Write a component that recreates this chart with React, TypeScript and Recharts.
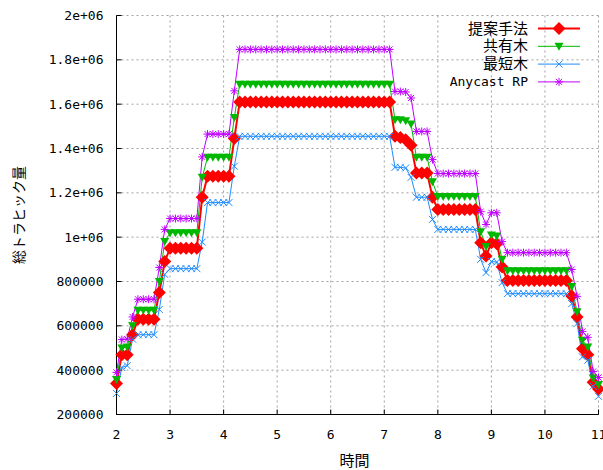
import React from 'react';
import { LineChart, Line, XAxis, YAxis, CartesianGrid } from 'recharts';

// 時間 (x)
const times = [
  2.0, 2.1, 2.2, 2.3, 2.4, 2.5, 2.6, 2.7, 2.8, 2.9,
  3.0, 3.1, 3.2, 3.3, 3.4, 3.5, 3.6, 3.7, 3.8, 3.9,
  4.0, 4.1, 4.2, 4.3, 4.4, 4.5, 4.6, 4.7, 4.8, 4.9,
  5.0, 5.1, 5.2, 5.3, 5.4, 5.5, 5.6, 5.7, 5.8, 5.9,
  6.0, 6.1, 6.2, 6.3, 6.4, 6.5, 6.6, 6.7, 6.8, 6.9,
  7.0, 7.1, 7.2, 7.3, 7.4, 7.5, 7.6, 7.7, 7.8, 7.9,
  8.0, 8.1, 8.2, 8.3, 8.4, 8.5, 8.6, 8.7, 8.8, 8.9,
  9.0, 9.1, 9.2, 9.3, 9.4, 9.5, 9.6, 9.7, 9.8, 9.9,
  10.0, 10.1, 10.2, 10.3, 10.4, 10.5, 10.6, 10.7, 10.8, 10.9,
  11.0,
];

// 提案手法
const proposed = [
  340000, 470000, 470000, 560000, 630000, 630000, 630000, 630000, 750000, 890000,
  950000, 950000, 950000, 950000, 950000, 950000, 1180000, 1275000, 1275000, 1275000,
  1275000, 1275000, 1445000, 1610000, 1610000, 1610000, 1610000, 1610000, 1610000, 1610000,
  1610000, 1610000, 1610000, 1610000, 1610000, 1610000, 1610000, 1610000, 1610000, 1610000,
  1610000, 1610000, 1610000, 1610000, 1610000, 1610000, 1610000, 1610000, 1610000, 1610000,
  1610000, 1610000, 1455000, 1450000, 1440000, 1415000, 1290000, 1290000, 1290000, 1180000,
  1125000, 1125000, 1125000, 1125000, 1125000, 1125000, 1125000, 1125000, 975000, 915000,
  975000, 970000, 865000, 805000, 805000, 805000, 805000, 805000, 805000, 805000,
  805000, 805000, 805000, 805000, 805000, 735000, 640000, 497000, 470000, 345000,
  315000,
];

// 共有木
const shared = [
  358000, 500000, 505000, 600000, 670000, 670000, 670000, 670000, 800000, 980000,
  1020000, 1020000, 1020000, 1020000, 1020000, 1020000, 1270000, 1360000, 1360000, 1360000,
  1360000, 1360000, 1540000, 1690000, 1690000, 1690000, 1690000, 1690000, 1690000, 1690000,
  1690000, 1690000, 1690000, 1690000, 1690000, 1690000, 1690000, 1690000, 1690000, 1690000,
  1690000, 1690000, 1690000, 1690000, 1690000, 1690000, 1690000, 1690000, 1690000, 1690000,
  1690000, 1690000, 1530000, 1530000, 1525000, 1510000, 1360000, 1360000, 1360000, 1250000,
  1183000, 1183000, 1183000, 1183000, 1183000, 1183000, 1183000, 1183000, 1025000, 958000,
  1010000, 1005000, 900000, 848000, 848000, 848000, 848000, 848000, 848000, 848000,
  848000, 848000, 848000, 848000, 848000, 778000, 663000, 535000, 505000, 365000,
  335000,
];

// 最短木
const shortest = [
  295000, 412000, 420000, 540000, 560000, 560000, 560000, 560000, 674000, 832000,
  858000, 858000, 858000, 858000, 858000, 858000, 978000, 1156000, 1156000, 1156000,
  1156000, 1156000, 1320000, 1455000, 1455000, 1455000, 1455000, 1455000, 1455000, 1455000,
  1455000, 1455000, 1455000, 1455000, 1455000, 1455000, 1455000, 1455000, 1455000, 1455000,
  1455000, 1455000, 1455000, 1455000, 1455000, 1455000, 1455000, 1455000, 1455000, 1455000,
  1455000, 1455000, 1315000, 1315000, 1312000, 1270000, 1180000, 1180000, 1180000, 1080000,
  1035000, 1035000, 1035000, 1035000, 1035000, 1035000, 1035000, 1035000, 900000, 840000,
  890000, 888000, 795000, 745000, 745000, 745000, 745000, 745000, 745000, 745000,
  745000, 745000, 745000, 745000, 745000, 700000, 610000, 460000, 445000, 328000,
  282000,
];

// Anycast RP
const anycast = [
  390000, 538000, 540000, 640000, 720000, 720000, 720000, 720000, 863000, 1035000,
  1084000, 1084000, 1084000, 1084000, 1084000, 1084000, 1362000, 1465000, 1465000, 1465000,
  1465000, 1465000, 1660000, 1847000, 1847000, 1847000, 1847000, 1847000, 1847000, 1847000,
  1847000, 1847000, 1847000, 1847000, 1847000, 1847000, 1847000, 1847000, 1847000, 1847000,
  1847000, 1847000, 1847000, 1847000, 1847000, 1847000, 1847000, 1847000, 1847000, 1847000,
  1847000, 1847000, 1657000, 1657000, 1655000, 1628000, 1477000, 1477000, 1477000, 1350000,
  1287000, 1287000, 1287000, 1287000, 1287000, 1287000, 1287000, 1287000, 1115000, 1057000,
  1110000, 1110000, 980000, 930000, 930000, 930000, 930000, 930000, 930000, 930000,
  930000, 930000, 930000, 930000, 930000, 854000, 733000, 575000, 548000, 394000,
  367000,
];

const xTicks = [2, 3, 4, 5, 6, 7, 8, 9, 10, 11];
const yTicks = [200000, 400000, 600000, 800000, 1000000, 1200000, 1400000, 1600000, 1800000, 2000000];
const yTickLabels = ['200000', '400000', '600000', '800000', '1e+06', '1.2e+06', '1.4e+06', '1.6e+06', '1.8e+06', '2e+06'];

const data = times.map((t, i) => ({
  t,
  proposed: proposed[i],
  shared: shared[i],
  shortest: shortest[i],
  anycast: anycast[i],
}));

const FONT = "'DejaVu Sans Mono', 'Noto Sans CJK JP', monospace";

type Shape = 'diamond' | 'triangle' | 'cross' | 'star';

const SERIES: { key: string; name: string; color: string; width: number; shape: Shape }[] = [
  { key: 'proposed', name: '提案手法', color: '#ff0000', width: 2, shape: 'diamond' },
  { key: 'shared', name: '共有木', color: '#00b800', width: 1, shape: 'triangle' },
  { key: 'shortest', name: '最短木', color: '#1e8cff', width: 1, shape: 'cross' },
  { key: 'anycast', name: 'Anycast RP', color: '#c000ff', width: 1, shape: 'star' },
];

function Marker({ shape, color, cx, cy }: { shape: Shape; color: string; cx: number; cy: number }) {
  if (shape === 'diamond') {
    const s = 6.5;
    return <polygon points={`${cx},${cy - s} ${cx + s},${cy} ${cx},${cy + s} ${cx - s},${cy}`} fill={color} />;
  }
  if (shape === 'triangle') {
    return <polygon points={`${cx - 4.5},${cy - 3.5} ${cx + 4.5},${cy - 3.5} ${cx},${cy + 4.5}`} fill={color} />;
  }
  if (shape === 'cross') {
    const s = 3.5;
    return (
      <g stroke={color} strokeWidth={1}>
        <line x1={cx - s} y1={cy - s} x2={cx + s} y2={cy + s} />
        <line x1={cx - s} y1={cy + s} x2={cx + s} y2={cy - s} />
      </g>
    );
  }
  const s = 4;
  const d = 3;
  return (
    <g stroke={color} strokeWidth={1}>
      <line x1={cx - s} y1={cy} x2={cx + s} y2={cy} />
      <line x1={cx} y1={cy - s} x2={cx} y2={cy + s} />
      <line x1={cx - d} y1={cy - d} x2={cx + d} y2={cy + d} />
      <line x1={cx - d} y1={cy + d} x2={cx + d} y2={cy - d} />
    </g>
  );
}

const dotFor = (shape: Shape, color: string) => (props: any) => {
  const { cx, cy, index } = props;
  if (cx == null || cy == null) return <g key={`${shape}-${index}`} />;
  return <Marker key={`${shape}-${index}`} shape={shape} color={color} cx={cx} cy={cy} />;
};

// key box, top right inside the plot
function LegendBox() {
  return (
    <svg width={200} height={80} style={{ position: 'absolute', left: 400, top: 18, pointerEvents: 'none' }}>
      {SERIES.map((s, k) => {
        const y = 10.5 + k * 17.8;
        const isCjk = s.shape !== 'star';
        return (
          <g key={s.key}>
            <text
              x={128}
              y={y}
              textAnchor="end"
              dominantBaseline="central"
              fontFamily={FONT}
              fontSize={isCjk ? 15 : 13}
              fill="#000"
            >
              {s.name}
            </text>
            <line x1={138} y1={y} x2={180} y2={y} stroke={s.color} strokeWidth={s.width} />
            <Marker shape={s.shape} color={s.color} cx={159} cy={y} />
          </g>
        );
      })}
    </svg>
  );
}

export default function App() {
  return (
    <div style={{ position: 'absolute', left: 0, top: 0, width: 603, height: 470, background: '#fff' }}>
      <LineChart width={603} height={470} data={data} margin={{ top: 15.5, right: 4.5, bottom: 3.5, left: 0 }}>
        <CartesianGrid stroke="#a0a0a0" strokeDasharray="2 3" />
        <XAxis
          dataKey="t"
          type="number"
          domain={[2, 11]}
          ticks={xTicks}
          interval={0}
          height={52}
          stroke="#000"
          tickSize={-5}
          tickMargin={20}
          tick={{ fill: '#000', fontSize: 13, fontFamily: FONT }}
          label={{
            content: (p: any) => {
              const vb = p.viewBox || {};
              return (
                <text x={vb.x + vb.width / 2 - 3} y={466} textAnchor="middle" fontFamily={FONT} fontSize={15} fill="#000">
                  時間
                </text>
              );
            },
          }}
        />
        <XAxis
          xAxisId="top"
          orientation="top"
          type="number"
          domain={[2, 11]}
          ticks={xTicks}
          interval={0}
          height={0}
          stroke="#000"
          tickSize={-5}
          tick={false}
        />
        <YAxis
          type="number"
          domain={[200000, 2000000]}
          ticks={yTicks}
          interval={0}
          width={116.5}
          stroke="#000"
          tickSize={-5}
          tickMargin={18}
          tickFormatter={(v: number) => yTickLabels[yTicks.indexOf(v)] ?? String(v)}
          tick={{ fill: '#000', fontSize: 13, fontFamily: FONT }}
          label={{
            content: () => (
              <text
                x={19}
                y={215}
                transform="rotate(-90 19 215)"
                textAnchor="middle"
                dominantBaseline="central"
                fontFamily={FONT}
                fontSize={14}
                fill="#000"
              >
                総トラヒック量
              </text>
            ),
          }}
        />
        <YAxis
          yAxisId="right"
          orientation="right"
          type="number"
          domain={[200000, 2000000]}
          ticks={yTicks}
          interval={0}
          width={0}
          stroke="#000"
          tickSize={-5}
          tick={false}
        />
        {SERIES.map((s) => (
          <Line
            key={s.key}
            type="linear"
            dataKey={s.key}
            name={s.name}
            stroke={s.color}
            strokeWidth={s.width}
            dot={dotFor(s.shape, s.color)}
            activeDot={false}
            isAnimationActive={false}
          />
        ))}
      </LineChart>
      <LegendBox />
    </div>
  );
}
